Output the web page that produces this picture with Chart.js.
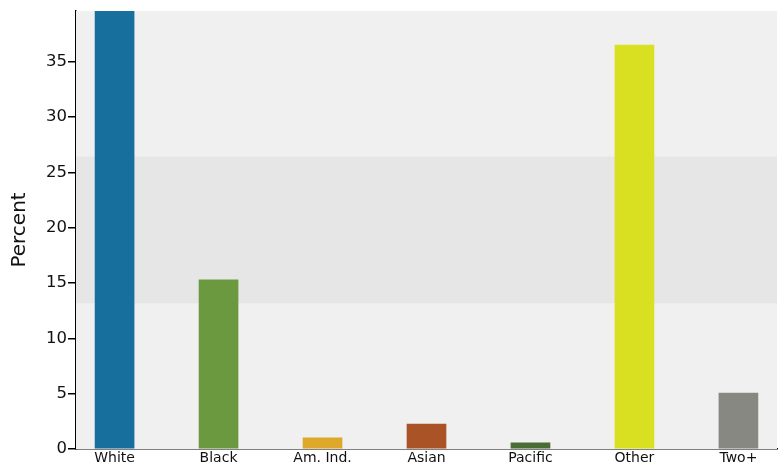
<!DOCTYPE html>
<html>
<head>
<meta charset="utf-8">
<script src="https://cdn.jsdelivr.net/npm/chart.js@4"></script>
<style>
  html, body { margin: 0; padding: 0; background: #fff; }
  #wrap { width: 784px; height: 465px; }
</style>
</head>
<body>
<div id="wrap"><canvas id="race-chart"></canvas></div>
<script>
// categories and values
var categories = ["White", "Black", "Am. Ind.", "Asian", "Pacific", "Other", "Two+"];
var percents = [40.5, 15.3, 1.0, 2.25, 0.55, 36.5, 5.05];
var bar_colors = ["#176f9e", "#6a993f", "#dea82a", "#aa5327", "#4a6c35", "#d9df21", "#888882"];
var y_ticks = [0, 5, 10, 15, 20, 25, 30, 35];
var band_range = [13.17, 26.43];

var points = categories.map(function (c, i) {
    return { x: i, y: percents[i] };
});

// plot background and the darker band behind the bars
var backgroundBand = {
    id: 'backgroundBand',
    beforeDatasetsDraw: function (chart) {
        var ctx = chart.ctx, area = chart.chartArea, y = chart.scales.y;
        ctx.save();
        ctx.fillStyle = '#f0f0f0';
        ctx.fillRect(area.left, area.top, area.right - area.left, area.bottom - area.top);
        var top = y.getPixelForValue(band_range[1]);
        var bottom = y.getPixelForValue(band_range[0]);
        ctx.fillStyle = '#e6e6e6';
        ctx.fillRect(area.left, top, area.right - area.left, bottom - top);
        ctx.restore();
    }
};

var raceChart = new Chart(document.getElementById("race-chart"), {
    type: 'bar',
    data: {
        datasets: [{
            data: points,
            backgroundColor: bar_colors,
            barThickness: 39,
            borderWidth: 0
        }]
    },
    plugins: [backgroundBand],
    options: {
        responsive: true,
        maintainAspectRatio: false,
        animation: false,
        layout: { padding: { left: 0, right: 7, top: 10, bottom: 0 } },
        plugins: {
            legend: { display: false },
            tooltip: { enabled: false }
        },
        scales: {
            x: {
                type: 'linear',
                offset: false,
                min: -0.371,
                max: 6.371,
                afterBuildTicks: function (scale) {
                    scale.ticks = categories.map(function (c, i) { return { value: i }; });
                },
                afterFit: function (scale) { scale.height = 16; },
                grid: { display: false, drawTicks: false },
                border: { display: true, color: '#000', width: 1.5 },
                ticks: {
                    padding: 1,
                    color: '#111',
                    font: { family: 'DejaVu Sans', size: 14 },
                    maxRotation: 0,
                    autoSkip: false,
                    callback: function (v) { return categories[v]; }
                }
            },
            y: {
                min: 0,
                max: 39.6,
                afterBuildTicks: function (scale) {
                    scale.ticks = y_ticks.map(function (v) { return { value: v }; });
                },
                afterFit: function (scale) { scale.width = 76; },
                grid: { drawOnChartArea: false, drawTicks: true, tickLength: 8, color: '#000', lineWidth: 1.5 },
                border: { display: true, color: '#000', width: 1.5 },
                title: {
                    display: true,
                    text: 'Percent',
                    color: '#111',
                    font: { family: 'DejaVu Sans', size: 20 },
                    padding: { top: 8, bottom: 4 }
                },
                ticks: {
                    padding: 1,
                    color: '#111',
                    font: { family: 'DejaVu Sans', size: 16.5 }
                }
            }
        }
    }
});
</script>
</body>
</html>
